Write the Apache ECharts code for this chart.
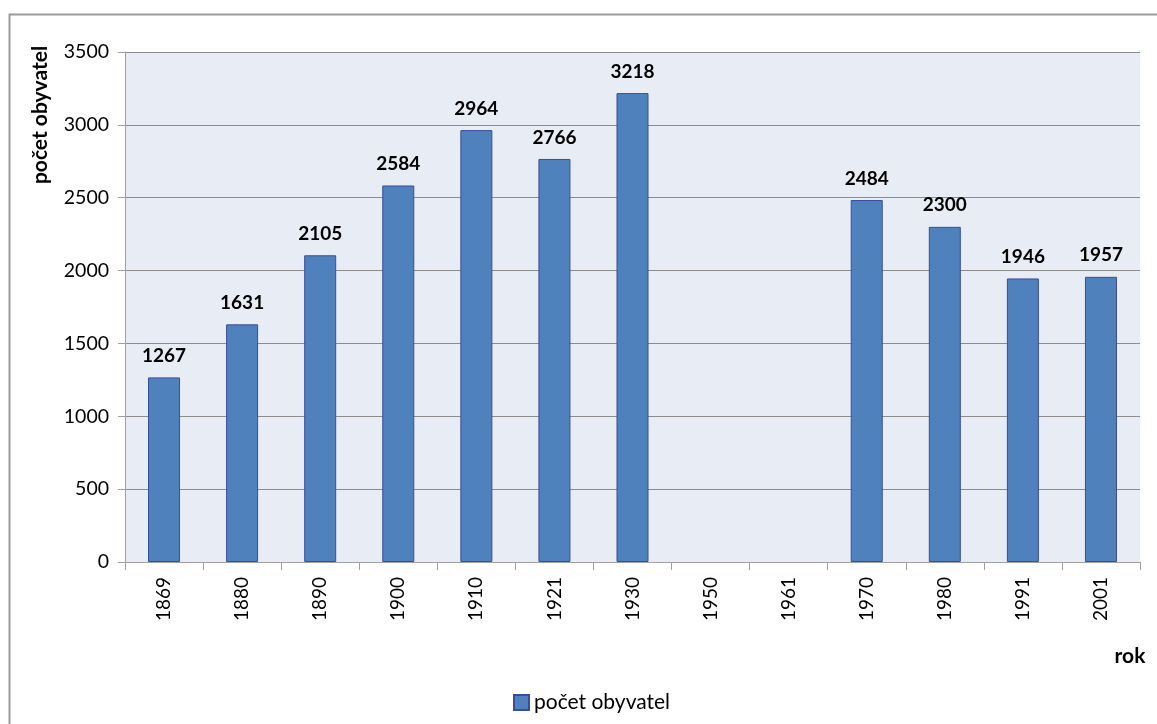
<!DOCTYPE html>
<html><head><meta charset="utf-8">
<script src="https://cdn.jsdelivr.net/npm/echarts@6/dist/echarts.min.js"></script>
<style>html,body{margin:0;padding:0;background:#fff}#c{width:1157px;height:724px}</style>
</head><body><div id="c"></div>
<script>
const years = ['1869','1880','1890','1900','1910','1921','1930','1950','1961','1970','1980','1991','2001'];
const population = [1267,1631,2105,2584,2964,2766,3218,null,null,2484,2300,1946,1957];
const seriesName = 'počet obyvatel';
const yAxisTitle = 'počet obyvatel';
const xAxisTitle = 'rok';
const FONT = 'Lato, "Liberation Sans", sans-serif';

const chart = echarts.init(document.getElementById('c'), null, {renderer:'canvas'});
chart.setOption({
  animation:false,
  backgroundColor:'#ffffff',
  textStyle:{fontFamily:FONT},
  grid:{left:125,right:17,top:52,bottom:162,show:true,backgroundColor:'#E8ECF5',borderWidth:0,containLabel:false},
  graphic:[
    {type:'rect',shape:{x:9.5,y:14.5,width:1200,height:800},style:{fill:'none',stroke:'#9A9A9A',lineWidth:2},silent:true},
    {type:'text',x:40,y:115,rotation:Math.PI/2,style:{text:yAxisTitle,font:'bold 21px '+FONT,fill:'#000',textAlign:'center',textVerticalAlign:'middle'}},
    {type:'text',x:1130,y:656,style:{text:xAxisTitle,font:'bold 21px '+FONT,fill:'#000',textAlign:'center',textVerticalAlign:'middle'}}
  ],
  legend:{bottom:6,left:508,itemWidth:15,itemHeight:15,itemGap:6,icon:'rect',
    textStyle:{fontSize:21,color:'#000',fontFamily:FONT},data:[seriesName]},
  xAxis:{type:'category',data:years,
    axisLine:{lineStyle:{color:'#A0A0A0',width:1}},
    axisTick:{show:true,length:8,lineStyle:{color:'#A0A0A0'}},
    axisLabel:{rotate:90,fontSize:19,color:'#000',margin:15,fontFamily:FONT},
    splitLine:{show:false}},
  yAxis:{type:'value',min:0,max:3500,interval:500,
    axisLine:{show:true,lineStyle:{color:'#A0A0A0',width:1}},
    axisTick:{show:true,length:7,lineStyle:{color:'#A0A0A0'}},
    axisLabel:{fontSize:19.5,color:'#000',margin:16,fontFamily:FONT,formatter:function(v){return String(v);}},
    splitLine:{show:true,lineStyle:{color:'#8C8C8C',width:1}}},
  series:[{name:seriesName,type:'bar',data:population,barWidth:32,
    itemStyle:{color:'#4F81BD',borderColor:'#3A4D9C',borderWidth:1},
    label:{show:true,position:'top',distance:12,fontSize:19,fontWeight:'bold',color:'#000',fontFamily:FONT}}]
});
</script></body></html>
